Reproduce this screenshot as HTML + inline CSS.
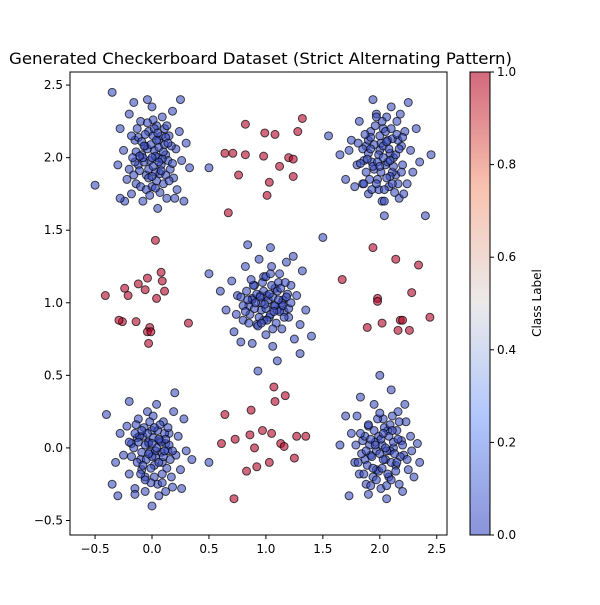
<!DOCTYPE html>
<html><head><meta charset="utf-8"><style>
body{margin:0;background:#fff;font-family:"Liberation Sans","DejaVu Sans",sans-serif}
svg text{font-family:"DejaVu Sans","Liberation Sans",sans-serif;fill:#000}
</style></head><body>
<svg id="chart" width="600" height="600" xmlns="http://www.w3.org/2000/svg">
<defs><linearGradient id="cw" x1="0" y1="1" x2="0" y2="0">
<stop offset="0" stop-color="#3b4cc0"/><stop offset="0.25" stop-color="#7b9ff9"/><stop offset="0.5" stop-color="#dddcdc"/><stop offset="0.75" stop-color="#f49a7b"/><stop offset="1" stop-color="#b40426"/></linearGradient></defs>
<text x="9" y="64" font-size="16" textLength="503" lengthAdjust="spacingAndGlyphs">Generated Checkerboard Dataset (Strict Alternating Pattern)</text>
<g id="marks"></g>
<rect x="70" y="72" width="377" height="463" fill="none" stroke="#000" stroke-width="1"/>
<g id="axes"></g>
<rect x="470" y="72" width="20" height="463" fill="url(#cw)" opacity="0.6"/>
<rect x="470" y="72" width="20" height="463" fill="none" stroke="#000" stroke-width="1"/>
<text transform="translate(541,303) rotate(-90)" font-size="12" text-anchor="middle">Class Label</text>
</svg>
<script>
const xTicks=[-0.5,0.0,0.5,1.0,1.5,2.0,2.5];
const yTicks=[-0.5,0.0,0.5,1.0,1.5,2.0,2.5];
const cbTicks=[0.0,0.2,0.4,0.6,0.8,1.0];
const redX=[0.82,0.71,0.64,0.82,0.99,1.08,0.98,1.32,1.28,1.2,1.24,1.12,0.76,1.03,1.01,1.24,0.67,
-0.41,-0.12,0.03,0.08,-0.04,-0.24,-0.21,-0.06,0.04,0.09,0.11,-0.26,-0.29,-0.14,-0.02,-0.04,-0.01,-0.03,0.32,
1.67,1.94,2.14,2.34,1.98,1.98,2.28,1.89,2.02,2.18,2.2,2.26,2.44,2.16,
0.64,0.87,1.07,1.17,1.08,0.86,0.97,1.05,1.13,1.16,0.73,0.61,0.9,1.27,1.35,0.92,1.03,0.83,1.25,0.72];
const redY=[2.23,2.03,2.03,2.02,2.17,2.16,2.01,2.27,2.18,2.0,1.99,1.94,1.88,1.83,1.74,1.87,1.62,
1.05,1.13,1.43,1.21,1.17,1.1,1.05,1.09,1.03,1.15,1.08,0.87,0.88,0.87,0.83,0.8,0.8,0.72,0.86,
1.16,1.38,1.3,1.26,1.03,1.01,1.07,0.83,0.86,0.88,0.88,0.81,0.9,0.81,
0.23,0.26,0.42,0.36,0.32,0.09,0.12,0.1,0.03,0.01,0.06,0.03,0.0,0.08,0.08,-0.13,-0.1,-0.16,-0.07,-0.35];
// blue offsets around cluster centres (hundredths)
const blueTL=[[-50,-19],[-35,45],[-28,20],[-25,5],[-22,-15],[-20,30],[-18,-25],[-15,12],[-12,-5],[-10,25],[-8,-30],[-6,8],[-5,-12],[-3,18],[-2,-2],[0,35],[0,-20],[2,5],[3,-10],[4,22],[5,-35],[6,12],[8,-5],[9,28],[10,-18],[12,2],[13,-28],[15,15],[16,-8],[18,32],[19,-14],[21,6],[22,-22],[24,18],[26,-2],[28,-30],[30,10],[33,-7],[50,-7],[-30,-5],[-24,-30],[-16,38],[-14,-18],[-4,40],[7,-24],[11,20],[-9,2],[1,15],[-20,-8],[14,-2],[-12,14],[5,0],[-3,-8],[20,-28],[-28,-28],[25,40]];
const coreTL=[[-14,4],[-11,-9],[-9,11],[-7,-3],[-6,16],[-4,6],[-3,-14],[-1,9],[1,-6],[2,20],[3,1],[4,-16],[6,7],[7,-11],[8,15],[9,-1],[11,9],[12,-12],[13,22],[-16,-12],[-13,20],[-10,-20],[-8,0],[-5,-22],[0,0],[1,26],[4,12],[6,-3],[10,4],[15,-16],[17,8],[-18,15],[-2,-26],[-15,-3],[18,-4],[8,-9],[-4,24],[3,-21],[12,14],[-7,8],[-11,1],[0,-13],[5,17],[-17,0],[14,10]];
const blueTR=[[-45,15],[-35,2],[-30,-15],[-25,12],[-20,-5],[-18,25],[-15,-18],[-12,8],[-10,-25],[-8,18],[-5,-8],[-3,30],[-2,-15],[0,5],[2,-30],[3,20],[5,-5],[7,12],[8,-20],[10,35],[12,0],[14,-12],[15,25],[17,-28],[19,8],[20,-5],[22,18],[24,-18],[25,38],[27,5],[29,-10],[32,20],[35,-3],[40,-40],[45,2],[-22,-20],[-6,40],[4,-40],[16,12],[-14,-2],[6,28],[-10,12],[11,-10],[-1,-22],[21,-25],[-27,5],[1,10],[9,3],[-7,-3],[18,30]];
const coreTR=[[-15,6],[-12,-10],[-10,3],[-8,14],[-6,-6],[-4,22],[-3,-18],[-1,2],[0,15],[1,-10],[3,8],[4,-22],[5,18],[7,-3],[8,6],[9,-13],[11,13],[12,-6],[14,2],[16,-18],[-17,-4],[-13,16],[-9,-15],[-5,9],[-2,-3],[2,25],[6,-14],[10,20],[13,-24],[17,6],[19,-10],[-19,10],[-7,-22],[0,-6],[3,0],[6,11],[-11,-1],[15,16],[-3,28],[9,-2],[20,14],[-14,-18],[4,-30],[-8,6],[11,-18]];
const blueMid=[[-50,20],[-35,-5],[-30,15],[-28,-20],[-25,5],[-20,-12],[-18,25],[-15,-2],[-12,-28],[-10,12],[-8,-15],[-6,30],[-4,-5],[-2,18],[0,-22],[1,5],[3,-10],[5,25],[6,-30],[8,10],[10,-5],[12,20],[14,-18],[15,2],[18,28],[20,-10],[22,12],[25,-25],[27,5],[30,-15],[32,22],[35,-5],[40,-23],[50,45],[-7,-47],[10,-40],[30,-35],[-22,-27],[-16,40],[4,38],[24,32],[-40,8],[-5,5],[7,-2],[-12,3],[16,-6],[-2,-12],[11,14],[-26,-8],[19,6]];
const coreMid=[[-20,-2],[-17,8],[-14,-8],[-12,2],[-10,-4],[-8,6],[-6,-10],[-4,0],[-2,8],[0,-4],[2,2],[4,-8],[6,4],[8,-2],[10,8],[12,-6],[14,0],[16,-10],[18,4],[-15,-14],[-11,12],[-7,-16],[-3,14],[1,-12],[5,12],[9,-14],[13,10],[-18,-6],[-1,-1],[3,6],[7,-6],[11,2],[-9,0],[-5,4],[15,-2],[20,-4],[-13,16],[0,18],[6,-18],[-22,4],[22,0],[-4,-14],[17,14],[-16,2],[4,20]];
const blueBL=[[-40,23],[-35,-25],[-30,-33],[-28,10],[-25,-5],[-22,15],[-20,-18],[-18,3],[-15,-28],[-12,20],[-10,-8],[-8,8],[-6,-20],[-4,25],[-2,-3],[0,-40],[0,12],[2,-12],[4,30],[5,-25],[7,5],[9,-10],[10,18],[12,-30],[14,-2],[15,10],[17,-20],[19,25],[21,-5],[23,8],[25,-15],[28,20],[30,-2],[35,-8],[50,-10],[-20,32],[-15,-32],[6,-33],[18,-27],[-32,-10],[1,22],[-9,-15],[8,-3],[-3,3],[12,3],[-13,7],[3,-6],[-6,-30],[26,-28],[20,38]];
const coreBL=[[-16,0],[-13,-10],[-11,8],[-9,-3],[-7,14],[-5,-8],[-3,4],[-1,-14],[1,7],[3,-2],[5,12],[6,-10],[8,4],[10,-6],[11,10],[13,-14],[15,2],[-14,16],[-10,-18],[-6,2],[-2,18],[2,-20],[4,0],[7,16],[9,-18],[-18,-6],[-8,-12],[0,-6],[12,6],[16,-8],[-12,4],[-4,10],[6,6],[2,14],[-15,10],[14,14],[-20,4],[18,-2],[-1,-24],[-6,-22],[9,-24],[-3,-4],[0,3],[11,-2],[-9,12]];
const blueBR=[[-35,2],[-27,-33],[-25,10],[-22,-10],[-20,22],[-18,-18],[-15,5],[-12,-25],[-10,15],[-8,-5],[-5,30],[-3,-15],[-1,8],[0,50],[1,-28],[3,20],[5,-8],[7,12],[8,-20],[10,40],[12,0],[14,-12],[16,25],[17,-25],[19,5],[21,-5],[23,18],[25,-15],[27,8],[30,-20],[33,3],[35,-10],[-30,22],[-17,35],[6,-35],[22,30],[-10,-32],[9,-2],[-4,4],[15,12],[-13,-8],[2,2],[20,-30],[-6,-20],[11,22],[28,-2]];
const coreBR=[[-16,-4],[-13,8],[-11,-12],[-9,2],[-7,-6],[-5,12],[-3,-2],[-1,-16],[1,6],[3,-8],[4,14],[6,-2],[8,8],[10,-10],[12,4],[14,-16],[16,6],[18,-6],[-14,-18],[-10,16],[-6,-14],[-2,20],[2,-14],[5,0],[9,16],[13,-4],[-17,10],[-8,6],[0,-4],[7,-18],[11,12],[15,-10],[-4,2],[3,10],[-12,-2],[20,2],[-19,-10],[0,24],[6,-26],[-3,-22],[17,18],[-8,-26],[24,-8],[-21,2],[10,-22]];
const blueCenters=[[0,2],[2,2],[1,1],[0,0],[2,0]];
const blueSets=[blueTL.concat(coreTL),blueTR.concat(coreTR),blueMid.concat(coreMid),blueBL.concat(coreBL),blueBR.concat(coreBR)];
const X0=70,X1=447,Y0=72,Y1=535,xmin=-0.72,xmax=2.59,ymin=-0.6,ymax=2.59;
const sx=v=>X0+(v-xmin)/(xmax-xmin)*(X1-X0);
const sy=v=>Y1-(v-ymin)/(ymax-ymin)*(Y1-Y0);
const NS="http://www.w3.org/2000/svg";
const marks=document.getElementById('marks'),axes=document.getElementById('axes');
function dot(x,y,c,nm){const e=document.createElementNS(NS,'circle');


e.setAttribute('cx',sx(x));e.setAttribute('cy',sy(y));e.setAttribute('r',4);
e.setAttribute('fill',c);e.setAttribute('fill-opacity',0.6);e.setAttribute('stroke','#000');e.setAttribute('stroke-opacity',0.7);e.setAttribute('stroke-width',1);marks.appendChild(e);}
blueSets.forEach((s,i)=>s.forEach(p=>dot(blueCenters[i][0]+p[0]/100,blueCenters[i][1]+p[1]/100,'#3b4cc0','class-0-point')));
redX.forEach((x,i)=>dot(x,redY[i],'#b40426','class-1-point'));
function tx(x,y,s,anchor,nm){const t=document.createElementNS(NS,'text');


t.setAttribute('x',x);t.setAttribute('y',y);t.setAttribute('font-size',12);t.setAttribute('text-anchor',anchor);t.textContent=s;axes.appendChild(t);}
function ln(x1,y1,x2,y2){const l=document.createElementNS(NS,'line');


l.setAttribute('x1',x1);l.setAttribute('y1',y1);l.setAttribute('x2',x2);l.setAttribute('y2',y2);l.setAttribute('stroke','#000');axes.appendChild(l);}
xTicks.forEach(v=>{const x=sx(v);ln(x,Y1,x,Y1+4);tx(x,Y1+18,v.toFixed(1).replace('-','−'),'middle','x-tick-label');});
yTicks.forEach(v=>{const y=sy(v);ln(X0,y,X0-4,y);tx(X0-7,y+4,v.toFixed(1).replace('-','−'),'end','y-tick-label');});
cbTicks.forEach(v=>{const y=Y1-v*(Y1-Y0);ln(490,y,494,y);tx(497,y+4,v.toFixed(1),'start','colorbar-tick-label');});
</script>
</body></html>
